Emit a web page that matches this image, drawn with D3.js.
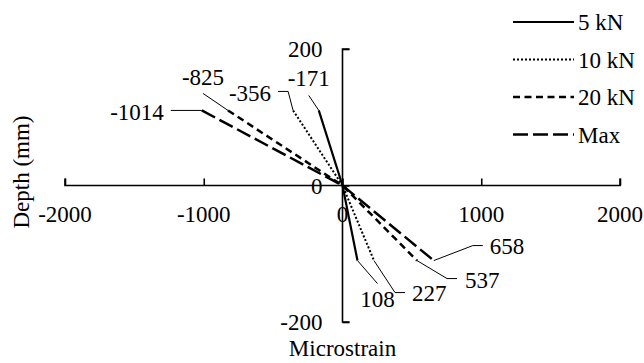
<!DOCTYPE html>
<html>
<head>
<meta charset="utf-8">
<script src="https://cdn.jsdelivr.net/npm/d3@7"></script>
<style>
  body { margin: 0; background: #fff; }
  svg { display: block; }
</style>
</head>
<body>
<svg id="chart" width="644" height="363"></svg>
<script>
// data: microstrain at the top (depth 110 mm) and bottom (depth -110 mm) gauges
const series = ["5 kN", "10 kN", "20 kN", "Max"];
const depths = [110, 0, -110];
const strains = [
    [-171, 0, 108],
    [-356, 0, 227],
    [-825, 0, 537],
    [-1014, 0, 658]
];
const xTicks = [-2000, -1000, 0, 1000, 2000];
const yTicks = [200, 0, -200];

const dashes = ["none", "2,2", "7,4.5", "15,5"];
const widths = [2.2, 2, 2.5, 2.5];
const FONT = "Liberation Serif";

const svg = d3.select("#chart");
const x = d3.scaleLinear().domain([-2000, 2000]).range([65, 620]);
const y = d3.scaleLinear().domain([-200, 200]).range([322, 49]);

function label(sel) {
    return sel.style("font-family", FONT).style("font-size", "23px").attr("fill", "#000");
}

// x axis (through depth 0), ticks pointing up
const xAxis = svg.append("g").attr("transform", `translate(0,${y(0)})`)
    .call(d3.axisTop(x).tickValues(xTicks).tickSize(7).tickFormat(""));
xAxis.select(".domain").attr("d", `M${x(-2000)},-7V0H${x(2000)}V-7`);
xAxis.selectAll("path, line").attr("stroke", "#000").attr("stroke-width", 1.6);

svg.selectAll(".xlab")
    .data(xTicks)
    .join("text")
    .attr("class", "xlab")
    .attr("x", d => x(d))
    .attr("y", y(0) + 36)
    .attr("text-anchor", "middle")
    .call(label)
    .text(d => d);

// y axis (through strain 0), ticks pointing right
const yAxis = svg.append("g").attr("transform", `translate(${x(0)},0)`)
    .call(d3.axisRight(y).tickValues(yTicks).tickSize(7).tickFormat(""));
yAxis.select(".domain").attr("d", `M7,${y(200)}H0V${y(-200)}H7`);
yAxis.selectAll("path, line").attr("stroke", "#000").attr("stroke-width", 1.6);

svg.selectAll(".ylab")
    .data(yTicks)
    .join("text")
    .attr("class", "ylab")
    .attr("x", x(0) - 20)
    .attr("y", d => y(d))
    .attr("dy", "0.35em")
    .attr("text-anchor", "end")
    .call(label)
    .text(d => d);

// axis titles
svg.append("text")
    .attr("x", x(0))
    .attr("y", 356)
    .attr("text-anchor", "middle")
    .call(label)
    .text("Microstrain");

svg.append("text")
    .attr("transform", `translate(29,172) rotate(-90)`)
    .attr("text-anchor", "middle")
    .call(label)
    .text("Depth (mm)");

// data lines
const line = d3.line().x(d => x(d[0])).y(d => y(d[1]));
series.forEach((s, i) => {
    const pts = strains[i].map((v, j) => [v, depths[j]]);
    svg.append("path")
        .datum(pts)
        .attr("d", line)
        .attr("fill", "none")
        .attr("stroke", "#000")
        .attr("stroke-width", widths[i])
        .attr("stroke-dasharray", dashes[i]);
});

// value labels with leader lines (offsets in px from the end point)
const topLeaders = [
    { path: [[-10, -15]], tx: -10, ty: -32, anchor: "middle" },
    { path: [[-5, -19], [-15, -19]], tx: -22, ty: -17, anchor: "end" },
    { path: [[-25, -17]], tx: -25, ty: -33, anchor: "middle" },
    { path: [[-31, 0]], tx: -38, ty: 2, anchor: "end" }
];
const bottomLeaders = [
    { path: [[20, 23]], tx: 20, ty: 38, anchor: "middle" },
    { path: [[21, 32], [31, 32]], tx: 38, ty: 32, anchor: "start" },
    { path: [[30, 18], [40, 18]], tx: 48, ty: 19, anchor: "start" },
    { path: [[39, -15], [49, -15]], tx: 56, ty: -15, anchor: "start" }
];

function drawLabel(val, depth, spec) {
    const px = x(val), py = y(depth);
    const pts = [[px, py]].concat(spec.path.map(p => [px + p[0], py + p[1]]));
    svg.append("path")
        .attr("d", d3.line()(pts))
        .attr("fill", "none")
        .attr("stroke", "#000")
        .attr("stroke-width", 1);
    svg.append("text")
        .attr("x", px + spec.tx)
        .attr("y", py + spec.ty)
        .attr("dy", "0.35em")
        .attr("text-anchor", spec.anchor)
        .call(label)
        .text(val);
}

series.forEach((s, i) => {
    drawLabel(strains[i][0], depths[0], topLeaders[i]);
    drawLabel(strains[i][2], depths[2], bottomLeaders[i]);
});

// legend
const legend = svg.append("g");
series.forEach((s, i) => {
    const ly = 22 + i * 37.5;
    legend.append("line")
        .attr("x1", 513).attr("x2", 574)
        .attr("y1", ly).attr("y2", ly)
        .attr("stroke", "#000")
        .attr("stroke-width", widths[i])
        .attr("stroke-dasharray", dashes[i]);
    legend.append("text")
        .attr("x", 578)
        .attr("y", ly)
        .attr("dy", "0.35em")
        .call(label)
        .text(s);
});
</script>
</body>
</html>
